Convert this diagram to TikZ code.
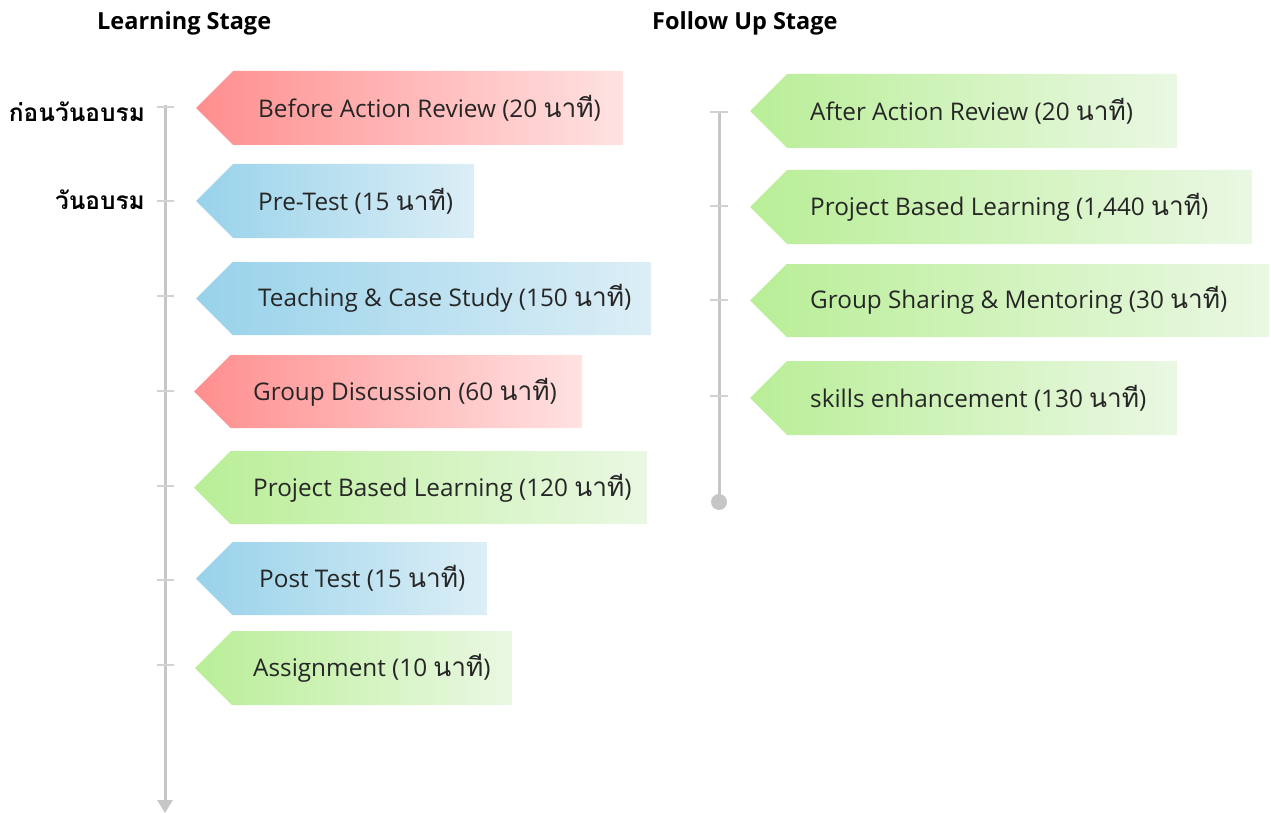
\documentclass[tikz,border=0pt]{standalone}
\usepackage{fontspec}
\setmainfont{Open Sans}
\newfontfamily\thai[Script=Thai,Scale=1.08]{Loma}
\usetikzlibrary{arrows.meta}
\definecolor{redL}{HTML}{FF8E8E}
\definecolor{redR}{HTML}{FFE2E2}
\definecolor{bluL}{HTML}{98D2EA}
\definecolor{bluR}{HTML}{DCEEF6}
\definecolor{grnL}{HTML}{B9EE97}
\definecolor{grnR}{HTML}{EAF8E3}
\definecolor{axis}{HTML}{C6C6C6}
\definecolor{tick}{HTML}{D2D2D2}
\tikzset{
  lbl/.style={anchor=west, inner sep=0pt, text=black!85, font=\fontsize{24.3}{27}\selectfont},
  head/.style={anchor=west, inner sep=0pt, font=\bfseries\fontsize{23.5}{26}\selectfont},
  daylbl/.style={anchor=east, inner sep=0pt, font=\thai\bfseries\fontsize{22.6}{26}\selectfont},
  axisline/.style={draw=axis, line width=3pt},
  tickline/.style={draw=tick, line width=2pt},
}
% #1 top, #2 bottom, #3 tip x, #4 right x, #5 left colour, #6 right colour
\newcommand{\tagshape}[6]{%
  \shade[left color=#5, right color=#6]
    (#3,{(#1+#2)/2}) -- ({#3+(#2-#1)/2},#1) -- (#4,#1) -- (#4,#2) -- ({#3+(#2-#1)/2},#2) -- cycle;}
\begin{document}
\begin{tikzpicture}[x=1pt,y=-1pt]
\useasboundingbox (0,0) rectangle (1271,813);
% headers
\node[head] (h1) at (97,23) {Learning Stage};
\node[head] (h2) at (652,23) {Follow Up Stage};
% left axis
\coordinate (la) at (165,105);
\coordinate (lb) at (165,813);
\draw[axisline, -{Triangle[width=15pt,length=13pt]}] (la) -- (lb);
\foreach \y in {107,201,296,391,486,580,665} {\draw[tickline] (157,\y) -- (174,\y);}
\node[daylbl] (d1) at (145,112) {ก่อนวันอบรม};
\node[daylbl] (d2) at (145,200) {วันอบรม};
% left tags
\tagshape{71}{145}{196}{623}{redL}{redR}
\node[lbl] (l1) at (258,108) {Before Action Review (20 {\thai นาที})};
\tagshape{164}{238}{196}{474}{bluL}{bluR}
\node[lbl] (l2) at (258,201) {Pre-Test (15 {\thai นาที})};
\tagshape{262}{335}{196}{651}{bluL}{bluR}
\node[lbl] (l3) at (258,298) {Teaching \& Case Study (150 {\thai นาที})};
\tagshape{355}{428}{194}{582}{redL}{redR}
\node[lbl] (l4) at (253,392) {Group Discussion (60 {\thai นาที})};
\tagshape{451}{524}{194}{647}{grnL}{grnR}
\node[lbl] (l5) at (253,488) {Project Based Learning (120 {\thai นาที})};
\tagshape{542}{615}{196}{487}{bluL}{bluR}
\node[lbl] (l6) at (259,578) {Post Test (15 {\thai นาที})};
\tagshape{631}{705}{195}{512}{grnL}{grnR}
\node[lbl] (l7) at (253,668) {Assignment (10 {\thai นาที})};
% right axis
\coordinate (ra) at (719,112);
\coordinate (rb) at (719,502);
\draw[axisline] (ra) -- (rb);
\fill[axis] (rb) circle (8);
\foreach \y in {112,206,300,396} {\draw[tickline] (710,\y) -- (728,\y);}
% right tags
\tagshape{74}{148}{750}{1177}{grnL}{grnR}
\node[lbl] (r1) at (810,111) {After Action Review (20 {\thai นาที})};
\tagshape{170}{244}{750}{1252}{grnL}{grnR}
\node[lbl] (r2) at (810,207) {Project Based Learning (1,440 {\thai นาที})};
\tagshape{264}{337}{750}{1269}{grnL}{grnR}
\node[lbl] (r3) at (810,300) {Group Sharing \& Mentoring (30 {\thai นาที})};
\tagshape{361}{435}{750}{1177}{grnL}{grnR}
\node[lbl] (r4) at (810,398) {skills enhancement (130 {\thai นาที})};
\end{tikzpicture}
\end{document}
